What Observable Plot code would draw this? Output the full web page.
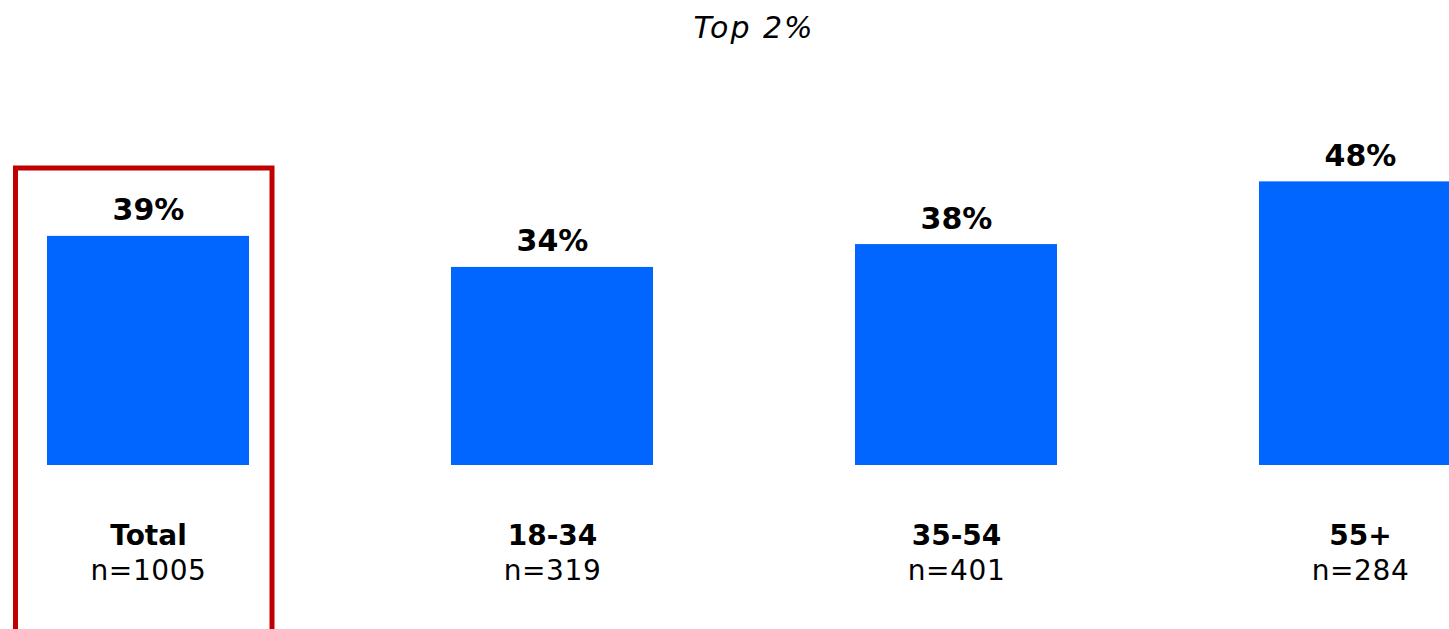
<!DOCTYPE html>
<html>
<head>
<meta charset="utf-8">
<script src="https://cdn.jsdelivr.net/npm/d3@7"></script>
<script src="https://cdn.jsdelivr.net/npm/@observablehq/plot@0.6"></script>
<style>
  html, body { margin: 0; padding: 0; background: #fff; overflow: hidden; }
  #chart svg { display: block; }
  #chart text[aria-label="chart-title"] { letter-spacing: 2px; }
  #chart text[aria-label="sample-size"] { letter-spacing: 0.6px; }
</style>
</head>
<body>
<div id="chart"></div>
<script>
const title = "Top 2%";
const categories = ["Total", "18-34", "35-54", "55+"];
const sampleSizes = ["n=1005", "n=319", "n=401", "n=284"];
const values = [39.1, 33.8, 37.7, 48.4];
const highlighted = ["Total"];

const data = categories.map((c, i) => ({category: c, n: sampleSizes[i], value: values[i]}));
const fmt = d => d3.format(".0f")(d) + "%";

const W = 1449, H = 629;
const chart = Plot.plot({
  width: W,
  height: H,
  marginTop: 0, marginBottom: 0, marginLeft: 0, marginRight: 0,
  style: {fontFamily: "'DejaVu Sans', Verdana, sans-serif", background: "#fff", color: "#000"},
  x: {type: "band", domain: categories, range: [-55.25, 1562.75], paddingInner: 0.5, paddingOuter: 0.25, align: 0.5, axis: null},
  y: {domain: [0, 79.35], range: [465, 0], axis: null},
  marks: [
    Plot.barY(data, {x: "category", y: "value", fill: "#0066FF"}),
    Plot.text(data, {x: "category", y: "value", text: d => fmt(d.value), lineAnchor: "bottom", dy: -16, fontSize: 30, fontWeight: "bold", fill: "#000"}),
    Plot.text(data, {x: "category", text: "category", frameAnchor: "bottom", lineAnchor: "bottom", dy: -85, fontSize: 28, fontWeight: "bold", fill: "#000"}),
    Plot.text(data, {x: "category", text: "n", frameAnchor: "bottom", lineAnchor: "bottom", dy: -50, fontSize: 28, fill: "#000", ariaLabel: () => "sample-size"}),
    Plot.barY(highlighted, {x: d => d, y1: -30, y2: 50.68, fill: "none", stroke: "#C00000", strokeWidth: 5, insetLeft: -31.5, insetRight: -23}),
    Plot.text([title], {text: d => d, frameAnchor: "top", lineAnchor: "bottom", dy: 37, dx: 29, fontSize: 30, fontStyle: "italic", fill: "#000", ariaLabel: () => "chart-title"})
  ]
});
document.getElementById("chart").appendChild(chart);
</script>
</body>
</html>
